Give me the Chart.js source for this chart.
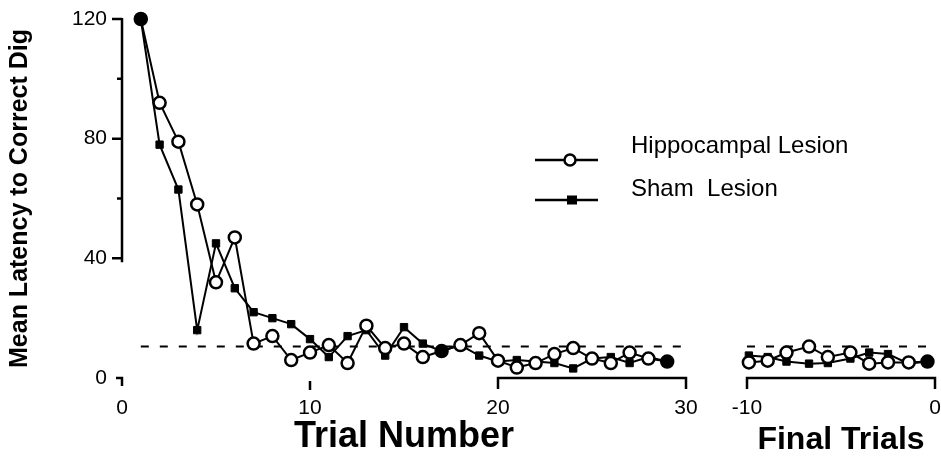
<!DOCTYPE html>
<html>
<head>
<meta charset="utf-8">
<script src="https://cdn.jsdelivr.net/npm/chart.js@4.4.0/dist/chart.umd.min.js"></script>
<style>
  body { margin: 0; background: #fff; width: 941px; height: 467px; overflow: hidden; position: relative; }
  #mainBox { position: absolute; left: 0; top: 0; width: 941px; height: 467px; }
  #finalBox { position: absolute; left: 700px; top: 0; width: 260px; height: 467px; }
</style>
</head>
<body>
<div id="mainBox"><canvas id="mainChart" width="941" height="467"></canvas></div>
<div id="finalBox"><canvas id="finalChart" width="260" height="467"></canvas></div>
<script>
'use strict'
// trials 1..29
let trials = [1,2,3,4,5,6,7,8,9,10,11,12,13,14,15,16,17,18,19,20,21,22,23,24,25,26,27,28,29];
let hippo = [120,92,79,58,32,47,11.5,14,6,8.5,11,5,17.5,10,11.5,7,9,11,15,5.8,3.5,5,8,10,6.5,5,8.5,6.5,5.5];
let sham = [120,78,63,16,45,30,22,20,18,13,7,14,16,7.5,17,11.5,9,11,7.5,5.5,6,5.5,5,3.2,6.5,7,5,7,5.5];

// final trials (positions)
let finalX = [-9.9,-8.9,-7.9,-6.7,-5.7,-4.5,-3.5,-2.5,-1.4,-0.4];
let finalHippo = [5.2,5.8,8.5,10.5,7,8.5,4.8,5.2,5.2,5.5];
let finalSham = [7.5,7,5.5,4.8,5,6.5,8.5,8,4.8,5.5];

let criterion = 10.5;
let yTicks = [0,40,80,120];
let mainXTicks = [0,10,20,30];
let finalXTicks = [-10,0];

let filledMain = [0,16,28];
let filledFinal = [9];

Chart.defaults.font.family = 'Liberation Sans, Arial, sans-serif';
Chart.defaults.color = '#000';

function pts(xs, ys) {
    let out = [];
    for (let i = 0; i < xs.length; i++) {
        out.push({x: xs[i], y: ys[i]});
    }
    return out;
}

function fills(n, filled) {
    let out = [];
    for (let i = 0; i < n; i++) {
        out.push(filled.includes(i) ? '#000' : '#fff');
    }
    return out;
}

function hippoSet(data, filled) {
    return {
        label: 'Hippocampal Lesion', data: data, clip: false,
        borderColor: '#000', borderWidth: 2,
        pointStyle: 'circle', pointRadius: 6, pointBorderWidth: 2.5,
        pointBackgroundColor: fills(data.length, filled), pointBorderColor: '#000'
    };
}
function shamSet(data) {
    return {
        label: 'Sham  Lesion', data: data, clip: false,
        borderColor: '#000', borderWidth: 2,
        pointStyle: 'rect', pointRadius: 5.2, pointBorderWidth: 1,
        pointBackgroundColor: '#000', pointBorderColor: '#000'
    };
}
function dashSet(x0, x1) {
    return {
        label: 'criterion', data: [{x: x0, y: criterion}, {x: x1, y: criterion}],
        borderColor: '#000', borderWidth: 2, borderDash: [8, 11], pointRadius: 0
    };
}

// axes drawn like the original: broken y axis, bracket under x
let brokenAxes = {
    id: 'brokenAxes',
    afterDraw(chart, args, opts) {
        let ctx = chart.ctx;
        let xs = chart.scales.x, ys = chart.scales.y;
        let b = ys.getPixelForValue(0);
        ctx.save();
        ctx.strokeStyle = '#000';
        ctx.lineWidth = 2.5;
        ctx.lineCap = 'butt';
        if (opts.yAxis) {
            let l = xs.getPixelForValue(0);
            ctx.beginPath();
            ctx.moveTo(l, ys.getPixelForValue(120) - 1);
            ctx.lineTo(l, ys.getPixelForValue(40) + 4);
            [40,60,80,100,120].forEach(v => {
                let y = ys.getPixelForValue(v);
                ctx.moveTo(l, y);
                ctx.lineTo(l - (v % 40 === 0 ? 10 : 5), y);
            });
            ctx.moveTo(l - 6, b);
            ctx.lineTo(l, b);
            ctx.lineTo(l, b + 8);
            ctx.stroke();
        }
        ctx.beginPath();
        (opts.lone || []).forEach(v => {
            let x = xs.getPixelForValue(v);
            ctx.moveTo(x, b + 3);
            ctx.lineTo(x, b + 12);
        });
        let x0 = xs.getPixelForValue(opts.bracket[0]);
        let x1 = xs.getPixelForValue(opts.bracket[1]);
        ctx.moveTo(x0, b + 11);
        ctx.lineTo(x0, b);
        ctx.lineTo(x1, b);
        ctx.lineTo(x1, b + 11);
        ctx.stroke();
        ctx.restore();
    }
};

// legend in the plot, like the original
let inLegend = {
    id: 'inLegend',
    afterDraw(chart) {
        let ctx = chart.ctx;
        ctx.save();
        ctx.strokeStyle = '#000';
        ctx.fillStyle = '#000';
        ctx.lineWidth = 2.5;
        let rows = [{y: 160, ty: 153, style: 'circle'}, {y: 200, ty: 196, style: 'rect'}];
        rows.forEach((r, i) => {
            let ds = chart.data.datasets[i];
            ctx.beginPath();
            ctx.moveTo(535, r.y);
            ctx.lineTo(598, r.y);
            ctx.stroke();
            if (r.style === 'circle') {
                ctx.beginPath();
                ctx.arc(570, r.y, 5.5, 0, Math.PI * 2);
                ctx.fillStyle = '#fff';
                ctx.fill();
                ctx.stroke();
            } else {
                ctx.fillStyle = '#000';
                ctx.fillRect(567, r.y - 4.5, 10, 9);
            }
            ctx.fillStyle = '#000';
            ctx.font = '24px Liberation Sans, Arial, sans-serif';
            ctx.textBaseline = 'alphabetic';
            ctx.fillText(ds.label, 631, r.ty);
        });
        ctx.restore();
    }
};

function yScale(show) {
    return {
        display: show,
        min: 0, max: 120,
        grid: {display: false, drawTicks: false}, border: {display: false},
        ticks: {
            stepSize: 20, autoSkip: false, padding: 15, font: {size: 21},
            callback: v => (yTicks.includes(v) ? v : '')
        },
        title: {display: show, text: 'Mean Latency to Correct Dig', font: {size: 25, weight: 'bold'}, padding: {top: 5, bottom: 0}},
        afterFit: s => {
            s.width = show ? 122 : 0;
            s.paddingTop = 0;
            s.paddingBottom = 0;
        }
    };
}

function xScale(min, max, ticks, title, size) {
    return {
        type: 'linear', min: min, max: max,
        grid: {display: false, drawTicks: false}, border: {display: false},
        afterBuildTicks: s => { s.ticks = ticks.map(v => ({value: v})); },
        ticks: {autoSkip: false, maxRotation: 0, padding: 18, font: {size: 21}},
        title: {display: true, text: title, font: {size: size, weight: 'bold'}, padding: {top: 0, bottom: 8}},
        afterFit: s => {
            s.height = 89;
            s.paddingLeft = 0;
            s.paddingRight = 0;
        }
    };
}

let common = {
    responsive: false,
    animation: false,
    devicePixelRatio: 1
};

new Chart(document.getElementById('mainChart'), {
    type: 'line',
    data: {
        datasets: [hippoSet(pts(trials, hippo), filledMain), shamSet(pts(trials, sham)), dashSet(1, 29.8)]
    },
    options: Object.assign({}, common, {
        layout: {autoPadding: false, padding: {left: 0, right: 255, top: 19, bottom: 0}},
        scales: {x: xScale(0, 30, mainXTicks, 'Trial Number', 36), y: yScale(true)},
        plugins: {legend: {display: false}, tooltip: {enabled: false},
            brokenAxes: {yAxis: true, lone: [10], bracket: [20, 30]}}
    }),
    plugins: [brokenAxes, inLegend]
});

new Chart(document.getElementById('finalChart'), {
    type: 'line',
    data: {
        datasets: [hippoSet(pts(finalX, finalHippo), filledFinal), shamSet(pts(finalX, finalSham)), dashSet(-10, -0.4)]
    },
    options: Object.assign({}, common, {
        layout: {autoPadding: false, padding: {left: 47, right: 25, top: 19, bottom: 0}},
        scales: {x: xScale(-10, 0, finalXTicks, 'Final Trials', 32), y: yScale(false)},
        plugins: {legend: {display: false}, tooltip: {enabled: false},
            brokenAxes: {yAxis: false, lone: [], bracket: [-10, 0]}}
    }),
    plugins: [brokenAxes]
});
</script>
</body>
</html>
